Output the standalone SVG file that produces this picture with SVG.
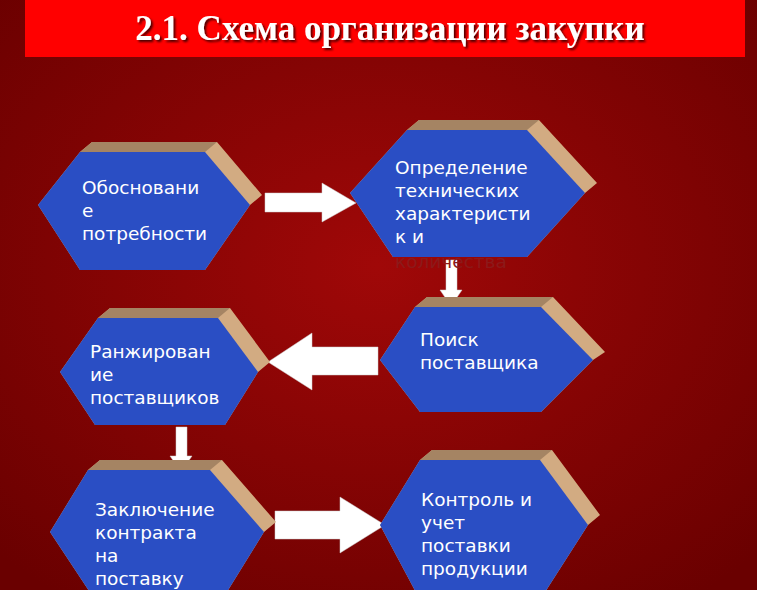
<svg xmlns="http://www.w3.org/2000/svg" width="757" height="590" viewBox="0 0 757 590">
<defs>
<radialGradient id="bg" cx="0.5" cy="0.45" r="0.7">
<stop offset="0" stop-color="#a00808"/><stop offset="1" stop-color="#6a0000"/>
</radialGradient>
<filter id="sh"><feDropShadow dx="2" dy="2" stdDeviation="1" flood-color="#000" flood-opacity="0.7"/></filter>
</defs>
<style>
.face{fill:#2a4ec4}
.side{fill:#d2ab82}
.top{fill:#a58463}
.t{font-family:"DejaVu Sans",sans-serif;font-size:18.5px;fill:#fff}
.arr{fill:#fff;stroke:#ccc;stroke-width:0.5}
</style>
<rect width="757" height="590" fill="url(#bg)"/>
<rect x="25" y="0" width="720" height="57" fill="#ff0000"/>
<text x="390" y="40" text-anchor="middle" font-family="'Liberation Serif',serif" font-weight="bold" font-size="35" fill="#fff" filter="url(#sh)">2.1.  Схема организации закупки</text>

<g id="connectors">
<polygon class="arr" points="265,193 322,193 322,183 356,203 322,222 322,212 265,212"/>
<polygon class="arr" points="378,347 312,347 312,333 268,362 312,390 312,375 378,375"/>
<polygon class="arr" points="275,511 340,511 340,497 385,525 340,553 340,539 275,539"/>
<polygon class="arr" points="446,260 457,260 457,290 462,290 451,306 440,290 446,290"/>
<polygon class="arr" points="176,427 187,427 187,456 192,456 181,472 170,456 176,456"/>
</g>

<g id="n1">
<polygon class="side" points="92,142 217,142 262,195 250,205 205,270 80,270 38,205 80,152"/>
<polygon class="top" points="92,142 217,142 205,152 80,152"/>
<polygon class="face" points="38,205 80,152 205,152 250,205 205,270 80,270"/>
<text class="t"><tspan x="82" y="194">Обосновани</tspan><tspan x="82" y="217">е</tspan><tspan x="82" y="240">потребности</tspan></text>
</g>

<g id="n2">
<polygon class="side" points="419,120 539,120 597,183 585,193 527,257 393,257 350,193 407,130"/>
<polygon class="top" points="419,120 539,120 527,130 407,130"/>
<polygon class="face" points="350,193 407,130 527,130 585,193 527,257 393,257"/>
<text x="395" y="268" font-family="'DejaVu Sans',sans-serif" font-size="18.5" fill="#8c1a1a">количества</text>
<text class="t"><tspan x="395" y="174">Определение</tspan><tspan x="395" y="197">технических</tspan><tspan x="395" y="220">характеристи</tspan><tspan x="395" y="243">к и</tspan></text>
</g>

<g id="n3">
<polygon class="side" points="427,297 553,297 605,352 593,360 541,412 420,412 380,360 415,307"/>
<polygon class="top" points="427,297 553,297 541,307 415,307"/>
<polygon class="face" points="380,360 415,307 541,307 593,360 541,412 420,412"/>
<text class="t"><tspan x="420" y="346">Поиск</tspan><tspan x="420" y="369">поставщика</tspan></text>
</g>

<g id="n4">
<polygon class="side" points="110,308 230,308 270,362 258,372 225,425 95,425 60,372 98,318"/>
<polygon class="top" points="110,308 230,308 218,318 98,318"/>
<polygon class="face" points="60,372 98,318 218,318 258,372 225,425 95,425"/>
<text class="t"><tspan x="90" y="358">Ранжирован</tspan><tspan x="90" y="381">ие</tspan><tspan x="90" y="404">поставщиков</tspan></text>
</g>

<g id="n5">
<polygon class="side" points="100,460 222,460 276,522 264,532 222,600 95,600 50,532 88,470"/>
<polygon class="top" points="100,460 222,460 210,470 88,470"/>
<polygon class="face" points="50,532 88,470 210,470 264,532 222,600 95,600"/>
<text class="t"><tspan x="95" y="516">Заключение</tspan><tspan x="95" y="539">контракта</tspan><tspan x="95" y="562">на</tspan><tspan x="95" y="585">поставку</tspan></text>
</g>

<g id="n6">
<polygon class="side" points="432,450 552,450 600,515 588,525 540,600 420,600 380,525 420,460"/>
<polygon class="top" points="432,450 552,450 540,460 420,460"/>
<polygon class="face" points="380,525 420,460 540,460 588,525 540,600 420,600"/>
<text class="t"><tspan x="421" y="506">Контроль и</tspan><tspan x="421" y="529">учет</tspan><tspan x="421" y="552">поставки</tspan><tspan x="421" y="575">продукции</tspan></text>
</g>
</svg>
